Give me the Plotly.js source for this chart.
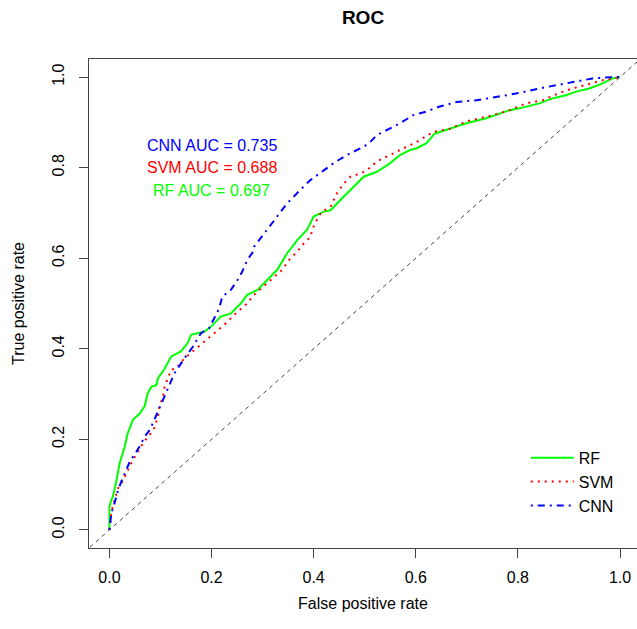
<!DOCTYPE html>
<html>
<head>
<meta charset="utf-8">
<script src="https://cdn.plot.ly/plotly-3.0.1.min.js"></script>
<style>html,body{margin:0;padding:0;background:#fff;}#chart{width:637px;height:629px;}</style>
</head>
<body>
<div id="chart"></div>
<script>
// ---- data ----
const rfFPR = [0,0,0.002,0.007,0.014,0.02,0.03,0.036,0.046,0.059,0.069,0.075,0.082,0.092,0.095,0.108,0.121,0.14,0.153,0.16,0.186,0.199,0.218,0.238,0.257,0.27,0.29,0.309,0.329,0.348,0.368,0.387,0.4,0.42,0.433,0.452,0.478,0.498,0.524,0.55,0.569,0.589,0.602,0.621,0.637,0.667,0.699,0.738,0.784,0.803,0.842,0.868,0.894,0.914,0.94,0.966,0.985,1];
const rfTPR = [0,0.05,0.06,0.075,0.11,0.147,0.184,0.214,0.243,0.257,0.273,0.302,0.316,0.32,0.335,0.356,0.383,0.394,0.412,0.431,0.438,0.449,0.471,0.478,0.5,0.519,0.53,0.552,0.575,0.611,0.64,0.663,0.692,0.703,0.706,0.728,0.758,0.78,0.791,0.81,0.828,0.839,0.843,0.854,0.875,0.886,0.898,0.909,0.927,0.931,0.942,0.953,0.96,0.968,0.975,0.986,0.997,1];

const svmFPR = [0,0.004,0.01,0.017,0.027,0.036,0.046,0.056,0.066,0.079,0.088,0.095,0.098,0.105,0.108,0.121,0.131,0.147,0.166,0.192,0.209,0.225,0.251,0.27,0.283,0.309,0.326,0.339,0.351,0.368,0.381,0.394,0.397,0.406,0.416,0.433,0.439,0.446,0.459,0.472,0.491,0.504,0.524,0.55,0.576,0.589,0.602,0.634,0.667,0.699,0.751,0.784,0.816,0.849,0.881,0.907,0.933,0.966,1];
const svmTPR = [0,0.04,0.066,0.092,0.11,0.133,0.155,0.173,0.192,0.21,0.225,0.25,0.273,0.294,0.316,0.354,0.357,0.379,0.397,0.42,0.438,0.453,0.482,0.5,0.519,0.545,0.563,0.575,0.595,0.615,0.633,0.647,0.663,0.684,0.703,0.713,0.728,0.744,0.765,0.78,0.787,0.794,0.814,0.828,0.843,0.85,0.857,0.879,0.886,0.902,0.916,0.927,0.942,0.949,0.965,0.975,0.983,0.993,1];

const cnnFPR = [0,0.004,0.01,0.017,0.023,0.033,0.04,0.053,0.059,0.069,0.079,0.088,0.095,0.101,0.114,0.121,0.127,0.147,0.163,0.179,0.195,0.205,0.215,0.221,0.238,0.251,0.26,0.27,0.28,0.283,0.303,0.329,0.348,0.374,0.394,0.42,0.439,0.465,0.498,0.511,0.524,0.569,0.595,0.621,0.647,0.68,0.719,0.757,0.803,0.842,0.881,0.913,0.946,0.985,1];
const cnnTPR = [0,0.038,0.059,0.088,0.106,0.133,0.151,0.173,0.184,0.206,0.221,0.243,0.261,0.28,0.31,0.33,0.345,0.379,0.404,0.434,0.445,0.467,0.489,0.515,0.53,0.552,0.57,0.596,0.612,0.625,0.655,0.692,0.721,0.751,0.773,0.794,0.81,0.828,0.846,0.857,0.872,0.898,0.916,0.924,0.935,0.945,0.949,0.956,0.965,0.975,0.983,0.99,0.997,1,1];

const chanceLine = [-0.05, 1.05];
const seriesNames = ["RF", "SVM", "CNN"];
const aucLabels = ["CNN AUC = 0.735", "SVM AUC = 0.688", "RF AUC = 0.697"];
const tickValues = [0, 0.2, 0.4, 0.6, 0.8, 1.0];
const tickLabels = ["0.0", "0.2", "0.4", "0.6", "0.8", "1.0"];

const FONT = "Liberation Sans, Arial, Helvetica, sans-serif";

const traces = [
  {x: chanceLine, y: chanceLine, mode: "lines", showlegend: false, hoverinfo: "skip",
   line: {color: "#444", width: 1, dash: "4px,4px"}},
  {x: rfFPR, y: rfTPR, mode: "lines", name: seriesNames[0],
   line: {color: "#00FF00", width: 2, shape: "linear"}},
  {x: svmFPR, y: svmTPR, mode: "lines", name: seriesNames[1],
   line: {color: "#FF0000", width: 2, dash: "2px,5px"}},
  {x: cnnFPR, y: cnnTPR, mode: "lines", name: seriesNames[2],
   line: {color: "#0000FF", width: 2, dash: "2px,5px,7px,5px"}}
];

const axisCommon = {
  showgrid: false, zeroline: false, showline: true, linecolor: "#444", linewidth: 1,
  ticks: "outside", ticklen: 9, tickcolor: "#444", tickwidth: 1,
  tickvals: tickValues, ticktext: tickLabels,
  tickfont: {family: FONT, size: 16, color: "#000"},
  automargin: false
};

const layout = {
  width: 637, height: 629,
  margin: {l: 89, r: 0, t: 59, b: 81, pad: 0},
  paper_bgcolor: "#fff", plot_bgcolor: "#fff",
  font: {family: FONT, size: 16, color: "#000"},
  title: {text: "<b>ROC</b>", font: {family: FONT, size: 19, color: "#000"},
          x: 0.5, xref: "paper", xanchor: "center", y: 0.972, yref: "container", yanchor: "middle"},
  xaxis: Object.assign({}, axisCommon, {
    range: [-0.04, 1.0333], mirror: true, ticklabelstandoff: 6,
    title: {text: "False positive rate", font: {family: FONT, size: 16, color: "#000"}, standoff: 12}
  }),
  yaxis: Object.assign({}, axisCommon, {
    range: [-0.04, 1.04], mirror: false, tickangle: -90, ticklabelstandoff: 9,
    title: {text: "True positive rate", font: {family: FONT, size: 16, color: "#000"}, standoff: 20}
  }),
  showlegend: true,
  legend: {x: 0.797, xanchor: "left", y: 0.219, yanchor: "top",
           bgcolor: "rgba(0,0,0,0)", borderwidth: 0, itemwidth: 43,
           font: {family: FONT, size: 16, color: "#000"}, traceorder: "normal"},
  annotations: [
    {x: 0.2, y: 0.85, xref: "x", yref: "y", text: aucLabels[0], showarrow: false,
     font: {family: FONT, size: 16, color: "#0000FF"}},
    {x: 0.2, y: 0.80, xref: "x", yref: "y", text: aucLabels[1], showarrow: false,
     font: {family: FONT, size: 16, color: "#FF0000"}},
    {x: 0.2, y: 0.75, xref: "x", yref: "y", text: aucLabels[2], showarrow: false,
     font: {family: FONT, size: 16, color: "#00FF00"}}
  ]
};

Plotly.newPlot("chart", traces, layout, {staticPlot: true, displayModeBar: false});
</script>
</body>
</html>
